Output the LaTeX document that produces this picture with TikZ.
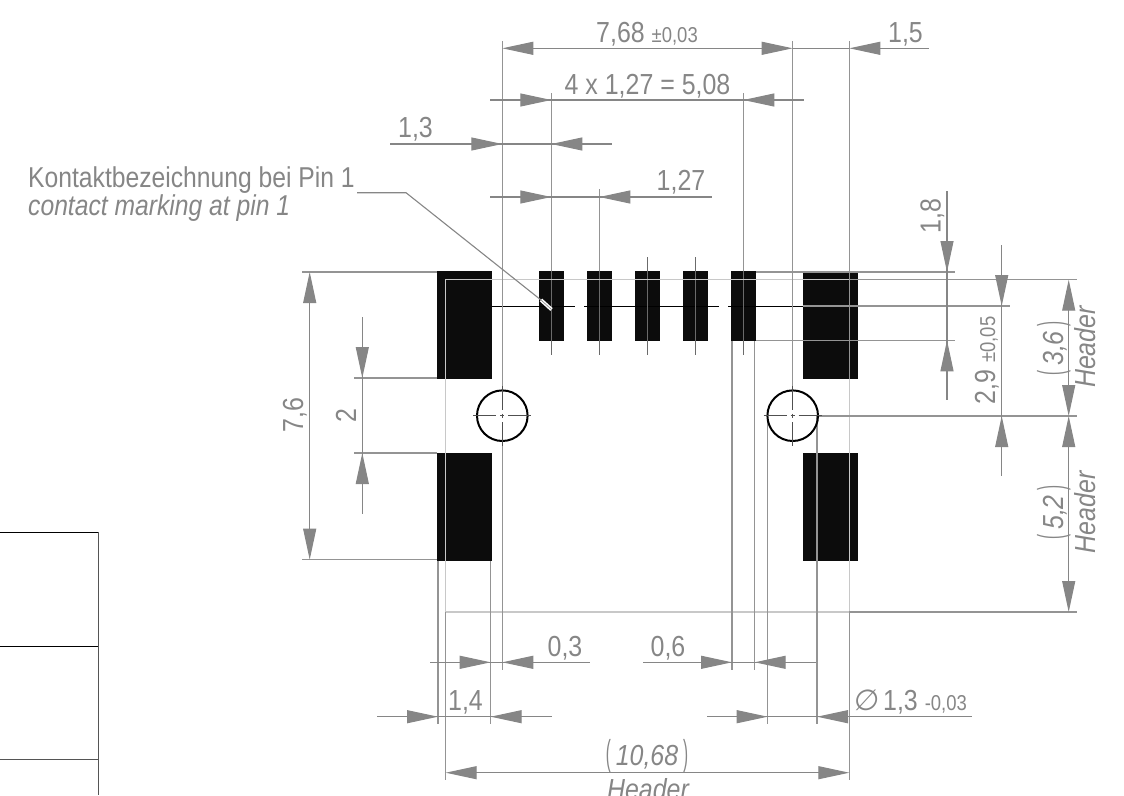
\documentclass[tikz,border=0pt]{standalone}
\usepackage{fontspec}
\setmainfont[FakeStretch=0.86]{Liberation Sans}
\newfontfamily\symfont{DejaVu Sans}
\usetikzlibrary{arrows.meta}
\definecolor{dim}{HTML}{868686}
\definecolor{ext}{HTML}{949494}
\definecolor{hdr}{HTML}{C8C8C8}
\definecolor{tbl}{HTML}{555555}
\definecolor{padfill}{HTML}{0C0C0C}
\tikzset{
  tip/.tip={Triangle[length=31pt,width=13pt,color=dim]},
  dimline/.style={draw=dim,line width=1.1pt},
  extline/.style={draw=ext,line width=1.1pt},
  holecircle/.style={draw=black,line width=2pt},
  big/.style={text=dim,inner sep=0pt,anchor=base,font=\fontsize{29}{29}\selectfont},
  bigit/.style={text=dim,inner sep=0pt,anchor=base,font=\fontsize{29}{29}\selectfont\itshape},
  lab/.style={text=dim,inner sep=0pt,anchor=base west,font=\fontsize{28.7}{29}\selectfont},
  vert/.style={rotate=90}
}
\newcommand{\tol}[1]{{\fontsize{21.5}{22}\selectfont #1}}
\newcommand{\lpar}{{\fontsize{36}{36}\selectfont\addfontfeature{FakeStretch=0.42}\upshape(}}
\newcommand{\rpar}{{\fontsize{36}{36}\selectfont\addfontfeature{FakeStretch=0.42}\upshape)}}
\begin{document}
\begin{tikzpicture}[x=1pt,y=-1pt]
\useasboundingbox (0,0) rectangle (1124,795);
\clip (0,0) rectangle (1124,795);
% table
\draw[black,line width=1pt] (0,532.7) -- (98.3,532.7);
\draw[black,line width=1pt] (0,646.5) -- (98.3,646.5);
\draw[tbl,line width=1.5pt] (0,759.5) -- (98.3,759.5);
\draw[tbl,line width=1.5pt] (98.3,532) -- (98.3,795);
% pads
\foreach \x/\w/\y/\h in {437/55/271/108,437/55/453/108,803/55/271/108,803/55/453/108,
  539/25/271/70,587/25/271/70,635/25/271/70,683/25/271/70,731/25/271/70}{
  \fill[padfill] (\x,\y) rectangle ++(\w,\h);
}
% centre line
\draw[black,line width=1pt] (492,306) -- (575,306) (584,306) -- (719,306) (728,306) -- (803,306);
% pin ticks
\foreach \x in {551.3,599.3,647.3,695.3,743.3} \draw[dim!80!black,line width=1.1pt] (\x,257) -- (\x,355);
% header outline
\draw[hdr,line width=1.2pt] (445.7,612) -- (445.7,279.7) -- (849.3,279.7);
\draw[hdr,line width=1.2pt] (445.7,612) -- (849.3,612);
\draw[hdr,line width=1.2pt] (849.3,379) -- (849.3,612);
% extension lines
\draw[extline] (502.3,41) -- (502.3,390);
\draw[extline] (502.3,441) -- (502.3,670);
\draw[extline] (792.7,41) -- (792.7,390);
\draw[extline] (849.3,41) -- (849.3,379);
\draw[extline] (849.3,612) -- (849.3,780);
\draw[extline] (445.7,612) -- (445.7,780);
\draw[extline] (551.3,93) -- (551.3,271);
\draw[extline] (599.3,189) -- (599.3,271);
\draw[extline] (743.3,93) -- (743.3,271);
\draw[extline] (438,561) -- (438,724);
\draw[extline] (490.7,561) -- (490.7,724);
\draw[extline] (732,341) -- (732,670);
\draw[extline] (754.7,341) -- (754.7,670);
\draw[extline] (767.7,416) -- (767.7,724);
\draw[extline] (817,416) -- (817,724);
\draw[extline] (849.3,612) -- (1077,612);
\draw[extline] (302,272) -- (437,272);
\draw[extline] (302,559.7) -- (437,559.7);
\draw[extline] (354,378) -- (437,378);
\draw[extline] (354,453) -- (437,453);
\draw[extline] (756,272) -- (955,272);
\draw[extline] (849.3,279.7) -- (1077,279.7);
\draw[extline] (803,306) -- (1010,306);
\draw[extline] (756,340.3) -- (955,340.3);
\draw[extline] (818,416) -- (1077,416);
% holes
\foreach \x/\n in {502.3/a,792.7/b}{
  \draw[holecircle] (\x,415.7) circle (25.3);
  \draw[dim!60!black,line width=1.1pt] (\x-29,415.7) -- (\x-6,415.7) (\x-2,415.7) -- (\x+2,415.7) (\x+6,415.7) -- (\x+29,415.7)
     (\x,386) -- (\x,410) (\x,413.7) -- (\x,417.7) (\x,422) -- (\x,446);
}
% horizontal dimensions
\draw[dimline,{tip}-{tip}] (502.3,48.3) -- (792.7,48.3);
\draw[dimline] (792.7,48.3) -- (849.3,48.3);
\draw[dimline,{tip}-] (849.3,48.3) -- (929,48.3);
\draw[dimline] (490,100) -- (804,100);
\draw[dimline,-{tip}] (520,100) -- (551.3,100);
\draw[dimline,-{tip}] (775,100) -- (743.3,100);
\draw[dimline] (390,144) -- (612,144);
\draw[dimline,-{tip}] (470,144) -- (502.3,144);
\draw[dimline,-{tip}] (583,144) -- (551.3,144);
\draw[dimline] (490,197) -- (712,197);
\draw[dimline,-{tip}] (520,197) -- (551.3,197);
\draw[dimline,-{tip}] (631,197) -- (599.3,197);
\draw[dimline] (430,662.3) -- (590,662.3);
\draw[dimline,-{tip}] (460,662.3) -- (490.7,662.3);
\draw[dimline,-{tip}] (533,662.3) -- (502.3,662.3);
\draw[dimline] (643,662.3) -- (816,662.3);
\draw[dimline,-{tip}] (701,662.3) -- (732,662.3);
\draw[dimline,-{tip}] (786,662.3) -- (754.7,662.3);
\draw[dimline] (377,716.7) -- (552,716.7);
\draw[dimline,-{tip}] (407,716.7) -- (438,716.7);
\draw[dimline,-{tip}] (522,716.7) -- (490.7,716.7);
\draw[dimline] (707,716.7) -- (972,716.7);
\draw[dimline,-{tip}] (737,716.7) -- (767.7,716.7);
\draw[dimline,-{tip}] (848,716.7) -- (817,716.7);
\draw[dimline,{tip}-{tip}] (445.7,772.7) -- (849.3,772.7);
% vertical dimensions
\draw[dimline,{tip}-{tip}] (309.7,272) -- (309.7,559.7);
\draw[dimline] (362.3,317) -- (362.3,514);
\draw[dimline,-{tip}] (362.3,347) -- (362.3,378);
\draw[dimline,-{tip}] (362.3,484) -- (362.3,453);
\draw[dimline] (947,191) -- (947,400);
\draw[dimline,-{tip}] (947,241) -- (947,272);
\draw[dimline,-{tip}] (947,371) -- (947,340.3);
\draw[dimline] (1001.7,245) -- (1001.7,476);
\draw[dimline,-{tip}] (1001.7,275) -- (1001.7,306);
\draw[dimline,-{tip}] (1001.7,447) -- (1001.7,416);
\draw[dimline,{tip}-{tip}] (1068.7,279.7) -- (1068.7,416);
\draw[dimline,{tip}-{tip}] (1068.7,416) -- (1068.7,612);
% leader
\coordinate (ldA) at (357,192.7);
\coordinate (ldB) at (406,192.7);
\coordinate (ldC) at (541,300);
\coordinate (ldD) at (551.5,309.5);
\draw[dim,line width=1.1pt] (ldA) -- (ldB) -- (ldC);
\draw[white,line width=3.6pt] (ldC) -- (ldD);
\draw[dim,line width=0.6pt] (ldC) -- (ldD);
% labels
\node[big] (t768) at (647,42) {7,68 \tol{±0,03}};
\node[big] (t15) at (905.5,42) {1,5};
\node[big] (t508) at (647.5,94) {4 x 1,27 = 5,08};
\node[big] (t13) at (415.5,137) {1,3};
\node[big] (t127) at (681,190) {1,27};
\node[big] (t03) at (565,656) {0,3};
\node[big] (t06) at (668,656) {0,6};
\node[big] (t14) at (465.5,710) {1,4};
\node[big] (tdia) at (910,710) {{\symfont\addfontfeature{FakeSlant=0.1}∅}\,1,3 \tol{-0,03}};
\node[bigit] (t1068) at (647,765) {\lpar\,10,68\,\rpar};
\node[bigit] (th1) at (648,799) {Header};
\node[big,vert] (t76) at (303,415) {7,6};
\node[big,vert] (t2) at (356,416) {2};
\node[big,vert] (t18) at (940.7,216) {1,8};
\node[big,vert] (t29) at (995,360.5) {2,9 \tol{±0,05}};
\node[bigit,vert] (t36) at (1063,348.5) {\lpar\,3,6\,\rpar};
\node[bigit,vert] (th2) at (1095,347) {Header};
\node[bigit,vert] (t52) at (1063,512.5) {\lpar\,5,2\,\rpar};
\node[bigit,vert] (th3) at (1095,512.5) {Header};
\node[lab] (tk1) at (28,187) {Kontaktbezeichnung bei Pin 1};
\node[lab,font=\fontsize{28.7}{29}\selectfont\itshape] (tk2) at (28,215) {contact marking at pin 1};
\end{tikzpicture}
\end{document}
